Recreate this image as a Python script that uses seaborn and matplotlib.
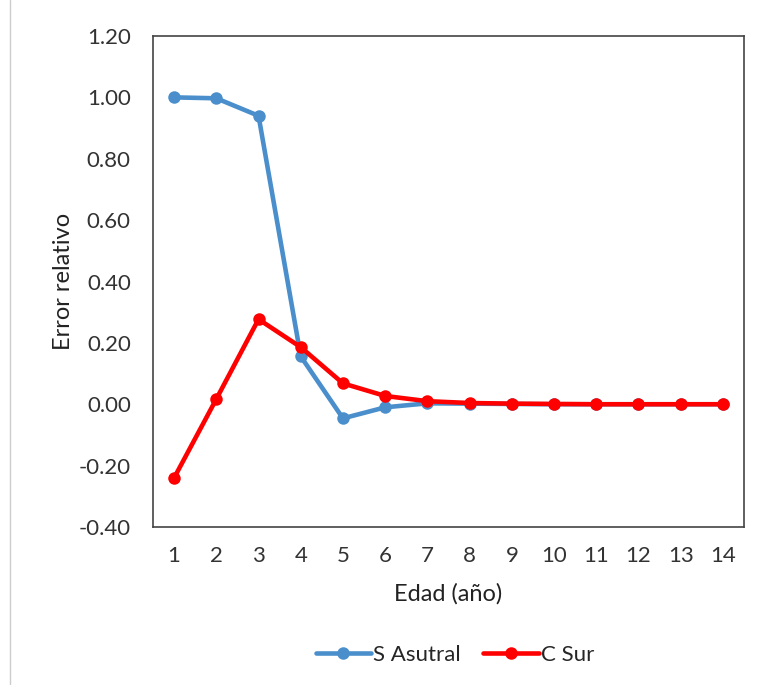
import matplotlib
matplotlib.use("Agg")
import matplotlib.pyplot as plt
import seaborn as sns
import pandas as pd
from matplotlib.lines import Line2D

edad = list(range(1, 15))
s_austral = [1.00, 0.997, 0.94, 0.156, -0.046, -0.01, 0.003, 0.002, 0.001, 0.0, 0.0, 0.0, 0.0, 0.0]
c_sur = [-0.24, 0.017, 0.277, 0.186, 0.068, 0.027, 0.01, 0.004, 0.002, 0.001, 0.0, 0.0, 0.0, 0.0]
yticks = [-0.40, -0.20, 0.00, 0.20, 0.40, 0.60, 0.80, 1.00, 1.20]

df = pd.DataFrame({
    "Edad": edad * 2,
    "Error": s_austral + c_sur,
    "Serie": ["S Asutral"] * len(edad) + ["C Sur"] * len(edad),
})

sns.set_theme(style="white")
plt.rcParams['font.family'] = ['Lato', 'DejaVu Sans']

fig = plt.figure(figsize=(7.59, 6.85), dpi=100)
ax = fig.add_axes([153/759, 1 - 527/685, (744-153)/759, (527-36)/685])

palette = {"S Asutral": "#4a8fcc", "C Sur": "#ff0000"}
sns.lineplot(data=df, x="Edad", y="Error", hue="Serie", palette=palette, ax=ax,
             marker="o", markersize=9, linewidth=3.3, markeredgewidth=0, legend=False)

ax.set_xlim(0.5, 14.5)
ax.set_ylim(-0.40, 1.20)
ax.set_xticks(edad)
ax.set_xticklabels([str(e) for e in edad], fontsize=16, color="#333333")
ax.set_yticks(yticks)
ax.set_yticklabels([f"{v:.2f}" for v in yticks], fontsize=16, color="#333333")
ax.tick_params(axis="x", length=0, pad=14)
ax.tick_params(axis="y", length=0, pad=16)
ax.set_xlabel("Edad (año)", fontsize=17, color="#222222", labelpad=12)
ax.set_ylabel("Error relativo", fontsize=17, color="#222222", labelpad=3)
for s in ax.spines.values():
    s.set_color("#444444")
    s.set_linewidth(1.2)

handles = [
    Line2D([0], [0], color=palette["S Asutral"], lw=3.3, marker="o", markersize=9, markeredgewidth=0),
    Line2D([0], [0], color=palette["C Sur"], lw=3.3, marker="o", markersize=9, markeredgewidth=0),
]
fig.legend(handles, ["S Asutral", "C Sur"], loc="center", bbox_to_anchor=(455/759, 1 - 655/685),
           ncol=2, frameon=False, fontsize=16, handlelength=2.5, handletextpad=0.1,
           columnspacing=1.0)

fig.add_artist(Line2D([10/759, 10/759], [0, 1], color="#cccccc", lw=1))

fig.savefig("out.png", dpi=100, facecolor="white")
